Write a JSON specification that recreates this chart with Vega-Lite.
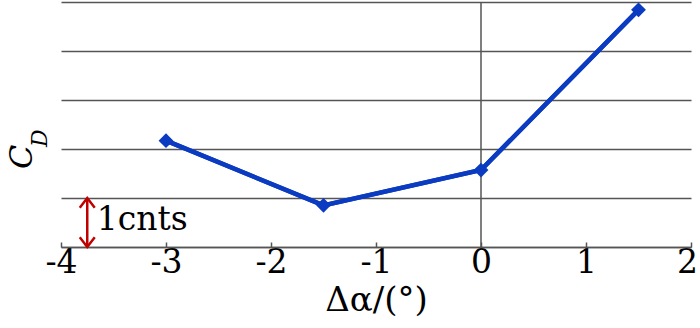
{
  "$schema": "https://vega.github.io/schema/vega-lite/v6.json",
  "width": 630,
  "height": 245,
  "autosize": {"type": "none"},
  "padding": {"left": 61, "top": 2, "right": 9, "bottom": 81},
  "background": "white",
  "config": {"view": {"stroke": null}, "font": "DejaVu Serif"},
  "datasets": {
    "series": [
      {"alpha": -3, "cd": 2.17},
      {"alpha": -1.5, "cd": 0.85},
      {"alpha": 0, "cd": 1.57},
      {"alpha": 1.5, "cd": 4.84}
    ],
    "zero": [{"alpha": 0}],
    "arrow": [{"alpha": -3.75, "lo": 0, "hi": 1}],
    "labels": [
      {"alpha": -3.66, "cd": 0.55, "txt": "1cnts"}
    ],
    "ytitle": [
      {"alpha": -4.37, "cd": 1.84, "txt": "C"}
    ],
    "ysub": [
      {"alpha": -4.2, "cd": 2.22, "txt": "D"}
    ]
  },
  "layer": [
    {
      "data": {"name": "series"},
      "mark": {"type": "line", "color": "#0a3bc0", "strokeWidth": 4.5},
      "encoding": {
        "x": {
          "field": "alpha", "type": "quantitative",
          "scale": {"domain": [-4, 2], "nice": false, "zero": false},
          "axis": {
            "title": "Δα/(°)",
            "titleFont": "DejaVu Serif",
            "titleFontSize": 34,
            "titleFontWeight": "normal",
            "titleColor": "black",
            "titlePadding": 4,
            "values": [-4, -3, -2, -1, 0, 1, 2],
            "labelExpr": "'' + datum.value",
            "labelFont": "DejaVu Serif",
            "labelFontSize": 33,
            "labelColor": "black",
            "labelPadding": 4,
            "labelFlush": false,
            "labelOffset": {"condition": {"test": "datum.value == 2", "value": -4}, "value": 0},
            "tickSize": -5,
            "tickColor": "#555555",
            "tickWidth": 1.5,
            "domainColor": "#555555",
            "domainWidth": 1.5,
            "grid": false
          }
        },
        "y": {
          "field": "cd", "type": "quantitative",
          "scale": {"domain": [0, 5], "nice": false, "zero": false},
          "axis": {
            "title": null,
            "labels": false,
            "ticks": false,
            "domain": false,
            "grid": true,
            "values": [0, 1, 2, 3, 4, 5],
            "gridColor": "#555555",
            "gridWidth": 1.5,
            "gridOpacity": 1
          }
        }
      }
    },
    {
      "data": {"name": "zero"},
      "mark": {"type": "rule", "color": "#555555", "strokeWidth": 1.5},
      "encoding": {"x": {"field": "alpha", "type": "quantitative"}}
    },
    {
      "data": {"name": "series"},
      "mark": {"type": "line", "color": "#0a3bc0", "strokeWidth": 4.5},
      "encoding": {
        "x": {"field": "alpha", "type": "quantitative"},
        "y": {"field": "cd", "type": "quantitative"}
      }
    },
    {
      "data": {"name": "series"},
      "mark": {"type": "point", "shape": "diamond", "filled": true, "color": "#0a3bc0", "size": 220, "opacity": 1},
      "encoding": {
        "x": {"field": "alpha", "type": "quantitative"},
        "y": {"field": "cd", "type": "quantitative"}
      }
    },
    {
      "data": {"name": "arrow"},
      "mark": {"type": "rule", "color": "#c00000", "strokeWidth": 2.5},
      "encoding": {
        "x": {"field": "alpha", "type": "quantitative"},
        "y": {"field": "lo", "type": "quantitative"},
        "y2": {"field": "hi"}
      }
    },
    {
      "data": {"name": "arrow"},
      "mark": {"type": "point", "shape": "M-1,1.3L0,0L1,1.3", "filled": false, "stroke": "#c00000", "strokeWidth": 2.5, "size": 225, "opacity": 1},
      "encoding": {
        "x": {"field": "alpha", "type": "quantitative"},
        "y": {"field": "hi", "type": "quantitative"}
      }
    },
    {
      "data": {"name": "arrow"},
      "mark": {"type": "point", "shape": "M-1,-1.3L0,0L1,-1.3", "filled": false, "stroke": "#c00000", "strokeWidth": 2.5, "size": 225, "opacity": 1},
      "encoding": {
        "x": {"field": "alpha", "type": "quantitative"},
        "y": {"field": "lo", "type": "quantitative"}
      }
    },
    {
      "data": {"name": "labels"},
      "mark": {"type": "text", "align": "left", "baseline": "middle", "fontSize": 33, "font": "DejaVu Serif", "color": "black"},
      "encoding": {
        "x": {"field": "alpha", "type": "quantitative"},
        "y": {"field": "cd", "type": "quantitative"},
        "text": {"field": "txt"}
      }
    },
    {
      "data": {"name": "ytitle"},
      "mark": {"type": "text", "align": "center", "baseline": "middle", "angle": 270, "fontSize": 32, "fontStyle": "italic", "font": "DejaVu Serif", "color": "black"},
      "encoding": {
        "x": {"field": "alpha", "type": "quantitative"},
        "y": {"field": "cd", "type": "quantitative"},
        "text": {"field": "txt"}
      }
    },
    {
      "data": {"name": "ysub"},
      "mark": {"type": "text", "align": "center", "baseline": "middle", "angle": 270, "fontSize": 22, "fontStyle": "italic", "font": "DejaVu Serif", "color": "black"},
      "encoding": {
        "x": {"field": "alpha", "type": "quantitative"},
        "y": {"field": "cd", "type": "quantitative"},
        "text": {"field": "txt"}
      }
    }
  ]
}
